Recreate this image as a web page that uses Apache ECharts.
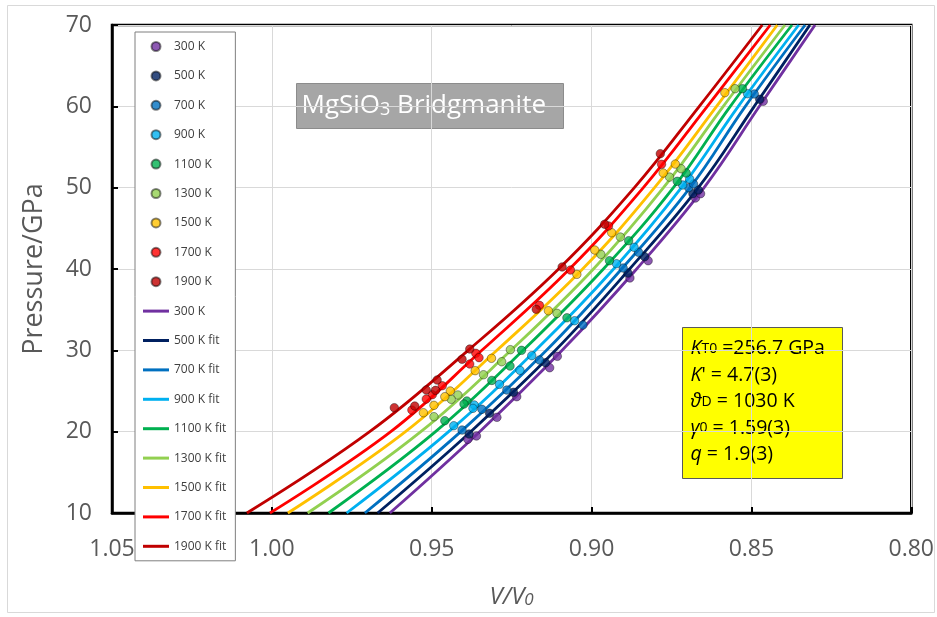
<!DOCTYPE html>
<html>
<head>
<meta charset="utf-8">
<title>MgSiO3 Bridgmanite</title>
<script src="https://cdn.jsdelivr.net/npm/echarts@6.0.0/dist/echarts.min.js"></script>
<style>
  html, body { margin: 0; padding: 0; background: #fff; }
  #chart { width: 937px; height: 617px; }
</style>
</head>
<body>
<div id="chart"></div>
<script>
// labels and colours
const tempLabels = ['300 K', '500 K', '700 K', '900 K', '1100 K', '1300 K', '1500 K', '1700 K', '1900 K']
const fitLabels = ['300 K ', '500 K fit', '700 K fit', '900 K fit', '1100 K fit', '1300 K fit', '1500 K fit', '1700 K fit', '1900 K fit']
const colors = ['#7030A0', '#002060', '#0070C0', '#00B0F0', '#00B050', '#92D050', '#FFC000', '#FF0000', '#C00000']

// fitted isotherms: V/V0 read at each pressure
const fitPressure = [10, 20, 30, 40, 50, 60, 70]
const fit300 = [0.9631, 0.9350, 0.9092, 0.8859, 0.8648, 0.8475, 0.8301]
const fit500 = [0.9669, 0.9378, 0.9113, 0.8881, 0.8666, 0.8491, 0.8317]
const fit700 = [0.9709, 0.9409, 0.9141, 0.8906, 0.8692, 0.8519, 0.8332]
const fit900 = [0.9766, 0.9447, 0.9175, 0.8931, 0.8719, 0.8541, 0.8352]
const fit1100 = [0.9823, 0.9488, 0.9214, 0.8963, 0.8744, 0.8566, 0.8373]
const fit1300 = [0.9888, 0.9534, 0.9252, 0.8994, 0.8775, 0.8588, 0.8395]
const fit1500 = [0.9950, 0.9582, 0.9296, 0.9028, 0.8803, 0.8609, 0.8419]
const fit1700 = [1.0006, 0.9628, 0.9343, 0.9069, 0.8838, 0.8638, 0.8441]
const fit1900 = [1.0078, 0.9694, 0.9386, 0.9103, 0.8866, 0.8663, 0.8466]

// measured points [V/V0, P]
const obs300 = [[0.8463, 60.62], [0.8675, 48.73], [0.8659, 49.26], [0.8880, 38.9], [0.8823, 41.02],
  [0.9107, 29.26], [0.9131, 27.86], [0.9234, 24.3], [0.9296, 21.76], [0.9387, 19.06], [0.9360, 19.47]]
const obs500 = [[0.8474, 60.86], [0.8683, 49.26], [0.8666, 49.71], [0.8886, 39.5], [0.8834, 41.51],
  [0.9144, 28.48], [0.9244, 24.84], [0.9319, 22.26], [0.9383, 19.71]]
const obs700 = [[0.8491, 61.52], [0.8696, 50.0], [0.8681, 50.45], [0.8901, 40.12], [0.8853, 42.05],
  [0.9027, 33.11], [0.9163, 28.81], [0.9265, 25.12], [0.9343, 22.75], [0.9405, 20.2]]
const obs900 = [[0.8512, 61.55], [0.8693, 51.06], [0.8715, 50.33], [0.8922, 40.65], [0.8867, 42.67],
  [0.9053, 33.64], [0.9187, 29.34], [0.9224, 27.54], [0.9288, 25.82], [0.9367, 23.28], [0.9371, 22.87], [0.9431, 20.73]]
const obs1100 = [[0.8528, 62.17], [0.8704, 51.8], [0.8732, 50.78], [0.8944, 41.02], [0.8884, 43.48],
  [0.9077, 34.0], [0.9219, 30.0], [0.9255, 28.07], [0.9312, 26.3], [0.9390, 23.77], [0.9399, 23.4], [0.9459, 21.35]]
const obs1300 = [[0.8551, 62.17], [0.8756, 51.3], [0.8720, 52.33], [0.8971, 41.8], [0.8910, 43.93],
  [0.9108, 34.55], [0.9254, 30.08], [0.9281, 28.6], [0.9338, 27.0], [0.9418, 24.51], [0.9439, 23.98], [0.9493, 21.84]]
const obs1500 = [[0.8583, 61.68], [0.8776, 51.8], [0.8738, 52.9], [0.9046, 39.34], [0.8990, 42.33], [0.8937, 44.46],
  [0.9135, 34.87], [0.9313, 29.02], [0.9364, 27.5], [0.9442, 25.0], [0.9459, 24.3], [0.9493, 23.24], [0.9526, 22.33]]
const obs1700 = [[0.8781, 52.87], [0.9066, 39.87], [0.8947, 45.29], [0.9163, 35.53], [0.9362, 29.63], [0.9352, 29.1],
  [0.9381, 28.32], [0.9467, 25.65], [0.9498, 24.55], [0.9517, 24.01], [0.9562, 22.66]]
const obs1900 = [[0.8785, 54.18], [0.9092, 40.25], [0.8959, 45.5], [0.9173, 35.04], [0.9381, 30.16], [0.9405, 28.9],
  [0.9483, 26.35], [0.9517, 25.12], [0.9488, 25.08], [0.9553, 23.15], [0.9617, 22.95]]

const xTicks = [0.80, 0.85, 0.90, 0.95, 1.00, 1.05]
const yTicks = [10, 20, 30, 40, 50, 60, 70]

const fits = [fit300, fit500, fit700, fit900, fit1100, fit1300, fit1500, fit1700, fit1900]
const observed = [obs300, obs500, obs700, obs900, obs1100, obs1300, obs1500, obs1700, obs1900]

const series = []
observed.forEach((pts, i) => {
  series.push({
    name: tempLabels[i],
    type: 'scatter',
    z: 4,
    symbolSize: 8.5,
    itemStyle: { color: colors[i], borderColor: 'rgba(0,0,0,0.6)', borderWidth: 0.8 },
    data: pts
  })
})
fits.forEach((v, i) => {
  series.push({
    name: fitLabels[i],
    type: 'line',
    z: 3,
    smooth: 0.4,
    symbol: 'none',
    showSymbol: false,
    lineStyle: { color: colors[i], width: 2.8 },
    itemStyle: { color: colors[i] },
    data: fitPressure.map((p, k) => [v[k], p])
  })
})

// legend: dots for the measurements, a short bar for the fits
const legendData = tempLabels.map(n => ({ name: n }))
  .concat(fitLabels.map(n => ({ name: n, icon: 'path://M0,0H26V3H0Z' })))

const chart = echarts.init(document.getElementById('chart'))
const labelFont = 'Open Sans'

chart.setOption({
  animation: false,
  backgroundColor: '#fff',
  grid: { left: 112, right: 25, top: 25, bottom: 104, show: true, borderColor: '#000', borderWidth: 2.5 },
  legend: {
    orient: 'vertical',
    left: 135,
    top: 32,
    padding: [8.5, 9, 8.5, 8],
    itemWidth: 26,
    itemHeight: 9,
    itemGap: 17.4,
    backgroundColor: '#fff',
    borderColor: '#7f7f7f',
    borderWidth: 1,
    selectedMode: false,
    textStyle: { fontFamily: labelFont, fontSize: 12, color: '#404040' },
    data: legendData
  },
  xAxis: {
    type: 'value',
    inverse: true,
    min: xTicks[0],
    max: xTicks[xTicks.length - 1],
    interval: 0.05,
    name: '{i|V}{i|/}{i|V}{s|0}',
    nameLocation: 'middle',
    nameGap: 72,
    nameTextStyle: {
      rich: {
        i: { fontFamily: labelFont, fontSize: 24, fontStyle: 'italic', color: '#595959' },
        s: { fontFamily: labelFont, fontSize: 17, fontStyle: 'italic', color: '#595959', verticalAlign: 'bottom' }
      }
    },
    axisLine: { show: true, lineStyle: { color: '#000', width: 2.5 } },
    axisTick: { show: true, inside: true, length: 6, lineStyle: { color: '#000', width: 2 } },
    axisLabel: { fontFamily: labelFont, fontSize: 23, color: '#595959', margin: 25, formatter: v => v.toFixed(2) },
    splitLine: { show: true, lineStyle: { color: '#d9d9d9', width: 1 } }
  },
  yAxis: {
    type: 'value',
    min: yTicks[0],
    max: yTicks[yTicks.length - 1],
    interval: 10,
    name: 'Pressure/GPa',
    nameLocation: 'middle',
    nameGap: 64,
    nameTextStyle: { fontFamily: labelFont, fontSize: 27, color: '#595959' },
    axisLine: { show: true, lineStyle: { color: '#000', width: 2.5 } },
    axisTick: { show: true, inside: true, length: 6, lineStyle: { color: '#000', width: 2 } },
    axisLabel: { fontFamily: labelFont, fontSize: 23, color: '#595959', margin: 20 },
    splitLine: { show: true, lineStyle: { color: '#d9d9d9', width: 1 } }
  },
  graphic: [
    {
      type: 'rect',
      silent: true,
      z: -10,
      shape: { x: 7.5, y: 5.5, width: 927, height: 607 },
      style: { fill: 'none', stroke: '#d9d9d9', lineWidth: 1 }
    },
    {
      type: 'group',
      left: 296,
      top: 83,
      z: 50,
      children: [
        { type: 'rect', shape: { x: 0, y: 0, width: 267, height: 45 }, style: { fill: '#a6a6a6', stroke: '#8c8c8c', lineWidth: 1 } },
        {
          type: 'text',
          x: 5,
          y: 22.5,
          style: {
            text: '{m|MgSiO}{s|3}{m| Bridgmanite}',
            verticalAlign: 'middle',
            rich: {
              m: { fontFamily: labelFont, fontSize: 26, fill: '#fff', color: '#fff' },
              s: { fontFamily: labelFont, fontSize: 18, fill: '#fff', color: '#fff', verticalAlign: 'bottom' }
            }
          }
        }
      ]
    },
    {
      type: 'group',
      left: 682,
      top: 327,
      z: 50,
      children: [
        { type: 'rect', shape: { x: 0, y: 0, width: 160, height: 151 }, style: { fill: '#ffff00', stroke: '#595959', lineWidth: 1 } },
        {
          type: 'text',
          x: 8,
          y: 8,
          style: {
            text: [
              '{i|K}{s|T0}{n| =256.7 GPa}',
              "{i|K}{n|' = 4.7(3)}",
              '{i|ϑ}{s|D}{n| = 1030 K}',
              '{i|γ}{s|0}{n| = 1.59(3)}',
              '{i|q}{n| = 1.9(3)}'
            ].join('\n'),
            rich: {
              n: { fontFamily: labelFont, fontSize: 19.5, color: '#000', lineHeight: 26.5 },
              i: { fontFamily: labelFont, fontSize: 19.5, fontStyle: 'italic', color: '#000', lineHeight: 26.5 },
              s: { fontFamily: labelFont, fontSize: 14, color: '#000', lineHeight: 26.5 }
            }
          }
        }
      ]
    }
  ],
  series: series
})
</script>
</body>
</html>
